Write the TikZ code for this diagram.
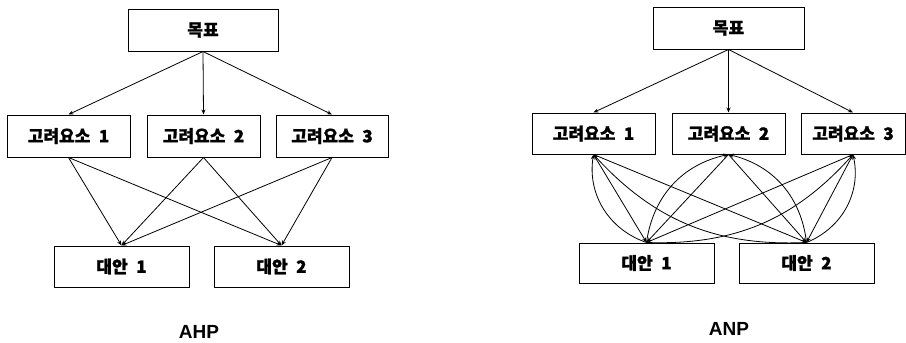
\documentclass[tikz,border=0pt]{standalone}
\usepackage{fontspec}
\usepackage{tikz}
\usetikzlibrary{arrows.meta,positioning}
\setmainfont{Liberation Sans}
\newfontfamily\kr[BoldFeatures={FakeBold=1.2}]{Noto Sans CJK KR}

\tikzset{
  box/.style={draw, line width=1pt, minimum height=42pt, inner sep=0pt,
    font=\kr\bfseries\fontsize{17}{19}\selectfont},
  arr/.style={-{Stealth[length=5pt,width=4pt]}, line width=0.8pt},
  lbl/.style={font=\bfseries\fontsize{19}{21}\selectfont}
}

\begin{document}
\begin{tikzpicture}[x=1pt,y=-1pt]
      \useasboundingbox (0,0) rectangle (906,343);
      % AHP: goal, criteria, alternatives
      \node[box, minimum width=150pt] (gl) at (203,30) {목표};
      \node[box, minimum width=123pt] (cl1) at (68.5,136) {고려요소\enspace 1};
      \node[box, minimum width=113pt] (cl2) at (203.5,136) {고려요소\enspace 2};
      \node[box, minimum width=112pt] (cl3) at (332,136) {고려요소\enspace 3};
      \node[box, minimum width=135pt, minimum height=41pt] (al1) at (121.5,266.5) {대안\enspace 1};
      \node[box, minimum width=135pt, minimum height=41pt] (al2) at (281.5,266.5) {대안\enspace 2};
      \node[lbl] (ahp) at (199,332) {AHP};
      % AHP arrows
      \foreach \c in {cl1,cl2,cl3} {
        \draw[arr] (gl.south) -- (\c.north);
        \draw[arr] (\c.south) -- (al1.north);
        \draw[arr] (\c.south) -- (al2.north);
      }
      % ANP: goal, criteria, alternatives
      \node[box, minimum width=151pt] (gr) at (728.5,28) {목표};
      \node[box, minimum width=123pt, minimum height=41pt] (cr1) at (593.5,133.5) {고려요소\enspace 1};
      \node[box, minimum width=113pt, minimum height=41pt] (cr2) at (728.5,133.5) {고려요소\enspace 2};
      \node[box, minimum width=104pt, minimum height=41pt] (cr3) at (853,133.5) {고려요소\enspace 3};
      \node[box, minimum width=135pt, minimum height=40pt] (ar1) at (646.5,263) {대안\enspace 1};
      \node[box, minimum width=135pt, minimum height=40pt] (ar2) at (806.5,263) {대안\enspace 2};
      \node[lbl] (anp) at (729,329) {ANP};
      % ANP arrows (straight down, curved back up)
      \foreach \c in {cr1,cr2,cr3} {
        \draw[arr] (gr.south) -- (\c.north);
        \draw[arr] (\c.south) -- (ar1.north);
        \draw[arr] (\c.south) -- (ar2.north);
      }
      \draw[arr] (ar1.north) to[bend left=40] (cr1.south);
      \draw[arr] (ar1.north) to[bend left=35] (cr2.south);
      \draw[arr] (ar1.north) to[bend right=25] (cr3.south);
      \draw[arr] (ar2.north) to[bend left=25] (cr1.south);
      \draw[arr] (ar2.north) to[bend right=35] (cr2.south);
      \draw[arr] (ar2.north) to[bend right=40] (cr3.south);
\end{tikzpicture}
\end{document}
